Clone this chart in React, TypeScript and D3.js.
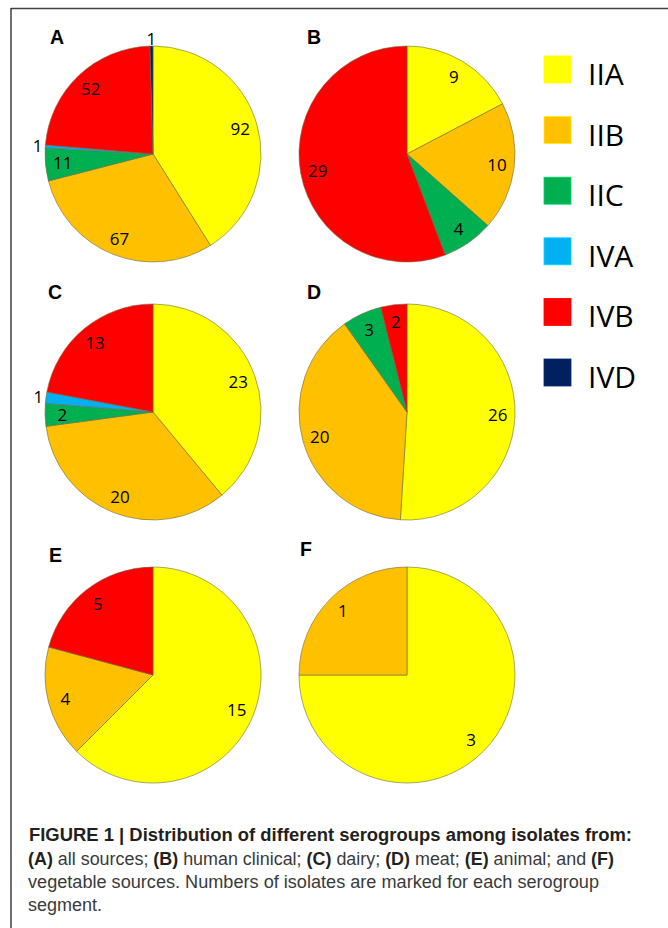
import React from 'react';
import * as d3 from 'd3';

// serogroups and their colours
const groups = ['IIA', 'IIB', 'IIC', 'IVA', 'IVB', 'IVD'];
const groupColors = ['#FFFF00', '#FFC000', '#00B050', '#00B0F0', '#FF0000', '#002060'];

// isolates per serogroup (same order as groups)
const allSources = [92, 67, 11, 1, 52, 1];
const humanClinical = [9, 10, 4, 0, 29, 0];
const dairy = [23, 20, 2, 1, 13, 0];
const meat = [26, 20, 3, 0, 2, 0];
const animal = [15, 4, 0, 0, 5, 0];
const vegetable = [3, 1, 0, 0, 0, 0];

const panelLetters = ['A', 'B', 'C', 'D', 'E', 'F'];
const panelValues = [allSources, humanClinical, dairy, meat, animal, vegetable];

const W = 668;
const H = 928;
const R = 108;

// layout of the six pies
const panelLayout = [
  { cx: 153, cy: 154, lx: 50, ly: 44 },
  { cx: 407, cy: 154, lx: 307, ly: 44 },
  { cx: 153, cy: 412, lx: 48, ly: 299 },
  { cx: 407, cy: 412, lx: 307, ly: 299 },
  { cx: 153, cy: 675, lx: 49, ly: 562 },
  { cx: 407, cy: 675, lx: 300, ly: 556 },
];

const pie = d3.pie<number>().sort(null).value((d) => d);
const arc = d3.arc<d3.PieArcDatum<number>>().innerRadius(0).outerRadius(R);
const labelArc = d3.arc<d3.PieArcDatum<number>>().innerRadius(R * 0.84).outerRadius(R * 0.84);
const outerLabelArc = d3.arc<d3.PieArcDatum<number>>().innerRadius(R * 1.07).outerRadius(R * 1.07);

const legendY = d3.scaleBand().domain(groups).range([56, 56 + 60.6 * 6]).paddingInner(0);

const PiePanel: React.FC<{ values: number[]; letter: string; idx: number }> = ({ values, letter, idx }) => {
  const { cx, cy, lx, ly } = panelLayout[idx];
  const total = d3.sum(values);
  const arcs = pie(values);
  return (
    <g>
      <text x={lx} y={ly} fontFamily="Liberation Sans, Arial, sans-serif" fontWeight="bold" fontSize={19.5} fill="#000">
        {letter}
      </text>
      <g transform={`translate(${cx},${cy})`}>
        {arcs
          .filter((a) => a.value > 0)
          .map((a) => (
            <path key={a.index} d={arc(a) as string} fill={groupColors[a.index]} stroke="#6b6b4a" strokeWidth={0.6} />
          ))}
        {arcs
          .filter((a) => a.value > 0)
          .map((a) => {
            const outside = a.value / total < 0.025;
            const [x, y] = (outside ? outerLabelArc : labelArc).centroid(a);
            return (
              <text
                key={'l' + a.index}
                x={x}
                y={y}
                textAnchor="middle"
                dominantBaseline="central"
                fontFamily="Open Sans, sans-serif"
                fontSize={17}
                fill="#000"
              >
                {a.value}
              </text>
            );
          })}
      </g>
    </g>
  );
};

export default function App() {
  const capFont = 'Liberation Sans, Arial, sans-serif';
  return (
    <svg width={W} height={H} style={{ position: 'absolute', left: 0, top: 0, background: '#fff' }}>
      <rect x={0} y={0} width={W} height={H} fill="#fff" />
      {/* figure frame */}
      <line x1={11} y1={8.5} x2={W} y2={8.5} stroke="#444" strokeWidth={1.6} />
      <line x1={11} y1={8} x2={11} y2={H} stroke="#222" strokeWidth={1.3} />

      {panelValues.map((v, i) => (
        <PiePanel key={i} values={v} letter={panelLetters[i]} idx={i} />
      ))}

      {/* legend */}
      {groups.map((g, i) => (
        <g key={g} transform={`translate(544,${legendY(g)})`}>
          <rect width={27} height={27} fill={groupColors[i]} stroke={d3.color(groupColors[i])!.brighter(0.6).toString()} strokeWidth={0.8} />
          <text x={44} y={29} fontFamily="Open Sans, sans-serif" fontSize={30} fill="#000">
            {g}
          </text>
        </g>
      ))}

      {/* caption */}
      <g fontFamily={capFont} fontSize={17.5}>
        <text x={29} y={841} fontWeight="bold" fill="#231f20" textLength={603} lengthAdjust="spacingAndGlyphs">
          FIGURE 1 | Distribution of different serogroups among isolates from:
        </text>
        <text x={28} y={865} fill="#3a3a3a" textLength={586} lengthAdjust="spacingAndGlyphs">
          <tspan fontWeight="bold" fill="#231f20">(A)</tspan> all sources; <tspan fontWeight="bold" fill="#231f20">(B)</tspan> human clinical;{' '}
          <tspan fontWeight="bold" fill="#231f20">(C)</tspan> dairy; <tspan fontWeight="bold" fill="#231f20">(D)</tspan> meat;{' '}
          <tspan fontWeight="bold" fill="#231f20">(E)</tspan> animal; and <tspan fontWeight="bold" fill="#231f20">(F)</tspan>
        </text>
        <text x={28} y={888} fill="#3a3a3a" textLength={571} lengthAdjust="spacingAndGlyphs">
          vegetable sources. Numbers of isolates are marked for each serogroup
        </text>
        <text x={28} y={911} fill="#3a3a3a" textLength={74} lengthAdjust="spacingAndGlyphs">
          segment.
        </text>
      </g>
    </svg>
  );
}
